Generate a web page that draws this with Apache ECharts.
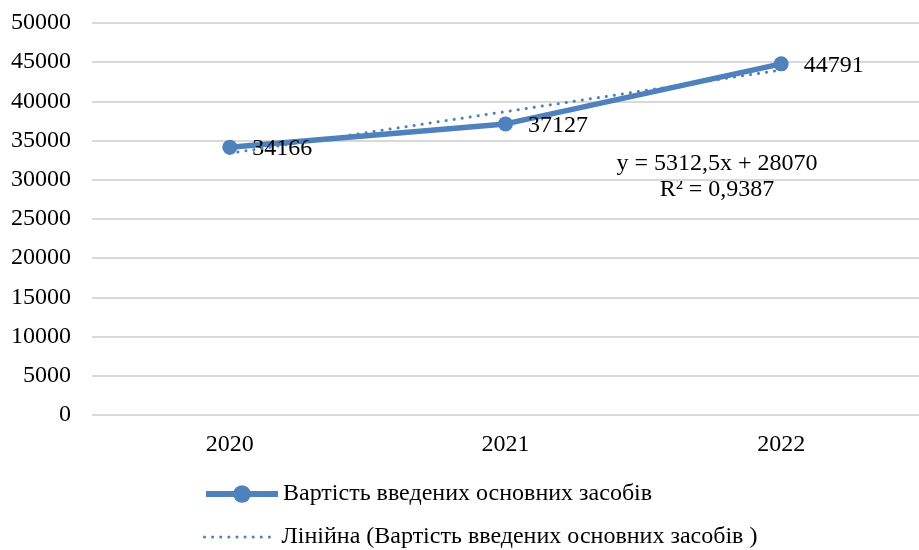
<!DOCTYPE html>
<html>
<head>
<meta charset="utf-8">
<script src="https://cdn.jsdelivr.net/npm/echarts@6/dist/echarts.min.js"></script>
<style>
  html, body { margin: 0; padding: 0; background: #fff; }
  #chart { width: 919px; height: 550px; }
</style>
</head>
<body>
<div id="chart"></div>
<script>
// Years on the category axis
const years = ['2020', '2021', '2022'];
// Value of fixed assets put into operation
const assetValues = [34166, 37127, 44791];
// Linear trend y = 5312,5x + 28070 at x = 1, 2, 3
const trendValues = [33382.5, 38695, 44007.5];
// Value axis ticks
const yTicks = [0, 5000, 10000, 15000, 20000, 25000, 30000, 35000, 40000, 45000, 50000];

const seriesName = 'Вартість введених основних засобів';
const trendName = 'Лінійна (Вартість введених основних засобів )';
const equationText = 'y = 5312,5x + 28070';
const rSquaredText = 'R² = 0,9387';

const blue = '#4f81bd';
const font = '"Liberation Serif", "Times New Roman", serif';
const textSize = 24;
const dotted = { color: blue, width: 3, type: [0.1, 8], cap: 'round' };

const legendBase = {
  orient: 'vertical',
  left: 203,
  padding: 0,
  itemWidth: 72,
  itemHeight: 15,
  textStyle: { color: '#000', fontSize: textSize, fontFamily: font },
  selectedMode: false
};

const chart = echarts.init(document.getElementById('chart'));
chart.setOption({
  animation: false,
  textStyle: { fontFamily: font },
  grid: { left: 92, right: -7, top: 23, bottom: 135, containLabel: false },
  xAxis: {
    type: 'category',
    data: years,
    boundaryGap: true,
    axisLine: { show: false },
    axisTick: { show: false },
    axisLabel: { color: '#000', fontSize: textSize, fontFamily: font, margin: 18 }
  },
  yAxis: {
    type: 'value',
    min: yTicks[0],
    max: yTicks[yTicks.length - 1],
    interval: yTicks[1] - yTicks[0],
    axisLine: { show: false },
    axisTick: { show: false },
    axisLabel: {
      color: '#000', fontSize: textSize, fontFamily: font, margin: 21,
      formatter: v => String(v)
    },
    splitLine: { lineStyle: { color: '#d9d9d9', width: 2 } }
  },
  legend: [
    Object.assign({}, legendBase, {
      top: 482,
      itemHeight: 22,
      data: [{ name: seriesName,
               itemStyle: { color: blue },
               lineStyle: { color: blue, width: 6 } }]
    }),
    Object.assign({}, legendBase, {
      top: 525,
      data: [{ name: trendName,
               itemStyle: { color: 'rgba(0,0,0,0)', opacity: 0 },
               lineStyle: dotted }]
    })
  ],
  series: [
    {
      name: seriesName,
      type: 'line',
      data: assetValues,
      z: 3,
      symbol: 'circle',
      symbolSize: 15,
      lineStyle: { color: blue, width: 5.5 },
      itemStyle: { color: blue },
      label: {
        show: true,
        position: 'right',
        distance: 15,
        offset: [0, 2],
        color: '#000',
        fontSize: textSize,
        fontFamily: font
      }
    },
    {
      name: trendName,
      type: 'line',
      data: trendValues,
      z: 4,
      symbol: 'none',
      lineStyle: dotted,
      itemStyle: { color: blue }
    }
  ],
  graphic: [
    {
      type: 'text',
      x: 717, y: 177,
      style: {
        text: equationText + '\n' + rSquaredText,
        align: 'center', verticalAlign: 'middle',
        fontSize: textSize, fontFamily: font, fill: '#000', lineHeight: 26
      }
    }
  ]
});
</script>
</body>
</html>
